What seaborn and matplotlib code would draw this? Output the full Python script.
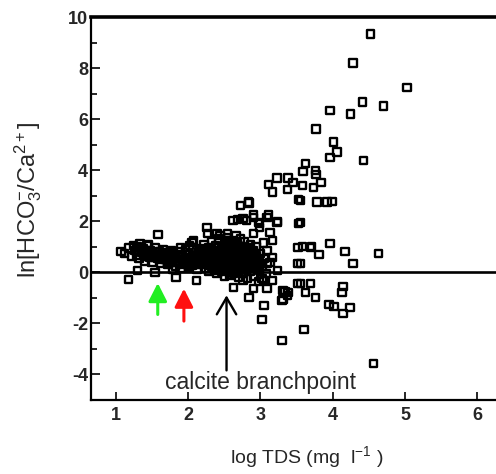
import matplotlib
matplotlib.use("Agg")
import matplotlib.pyplot as plt
import seaborn as sns
import pandas as pd
from matplotlib.ticker import MultipleLocator

# ---- data ----
# sparse points
sparse_x = [4.52, 4.28, 5.03, 4.41, 4.70, 3.96, 4.25, 3.77, 4.01, 4.06, 3.96, 4.43, 3.62, 3.59,
            3.76, 3.77, 3.23, 3.11, 3.38, 3.45, 3.58, 3.37, 3.17, 3.73, 3.84, 3.53, 3.78, 3.99,
            2.83, 3.53, 3.23, 3.09, 2.90, 2.81, 3.55, 3.92, 3.58, 3.71, 3.81, 3.96, 4.17, 4.63,
            4.28, 3.55,
            3.55, 3.69, 3.62, 3.76, 4.14, 4.13, 3.95, 4.02, 4.24, 4.14, 3.60, 4.56, 3.02, 2.63,
            2.84, 3.05, 3.02, 3.34, 3.30, 3.51, 3.30,
            2.72, 2.84, 2.90, 2.68, 2.76, 3.11, 3.24, 2.99, 3.55, 3.17, 3.52, 3.69, 3.51, 2.90,
            3.09, 3.31, 3.37,
            1.07, 1.17, 1.30, 1.58, 1.83, 2.11, 2.05, 2.26, 2.27, 2.00, 2.40, 2.62, 2.97, 3.13,
            2.99, 2.90, 3.09, 3.17, 3.24, 3.13, 3.04, 2.99, 3.17, 2.76, 2.34, 2.16, 2.44, 2.54,
            3.38, 3.31,
            1.24, 1.43, 1.33, 1.75, 1.65, 1.89, 2.02, 2.07, 2.19, 1.78, 1.54, 2.37]
sparse_y = [9.33, 8.20, 7.25, 6.67, 6.51, 6.35, 6.20, 5.61, 5.10, 4.71, 4.51, 4.39, 4.27, 3.96,
            4.00, 3.84, 3.69, 3.45, 3.69, 3.53, 3.41, 3.25, 3.14, 3.33, 3.53, 2.86, 2.75, 2.78,
            2.75, 1.92, 1.96, 2.16, 2.16, 2.04, 2.82, 2.75, 1.02, 1.02, 0.71, 1.14, 0.82, 0.75,
            0.35, 0.35,
            -0.43, -0.43, -0.78, -0.98, -0.55, -0.78, -1.25, -1.33, -1.37, -1.61, -2.24, -3.57,
            -0.24, -0.59, -0.98, -1.29, -1.84, -0.75, -1.10, -0.43, -2.67,
            2.63, 2.71, 2.24, 2.08, 2.12, 2.24, 2.00, 1.92, 1.96, 1.25, 0.98, 0.98, 0.35, -0.63,
            -0.63, -0.71, -0.90,
            0.82, -0.27, 0.08, 1.49, -0.20, -0.31, 1.18, 1.76, 1.53, 0.16, 1.53, 2.04, 1.96, 1.57,
            1.76, 1.53, 0.86, 0.59, 0.08, 0.39, -0.31, 0.08, -0.31, -0.31, 0.86, 0.86, 1.45, 1.53,
            -0.78, -1.06,
            1.06, 1.06, 1.14, 0.78, 0.78, 0.98, 1.06, 1.25, 0.94, 0.12, 0.00, 0.08]

# dense cluster, left part
left_x = [1.12, 1.18, 1.22, 1.26, 1.30, 1.32, 1.36, 1.38, 1.40, 1.42, 1.45, 1.46, 1.48, 1.50,
          1.52, 1.55, 1.57, 1.60, 1.62, 1.64, 1.66, 1.68, 1.70, 1.72, 1.74, 1.76, 1.78, 1.80,
          1.82, 1.84, 1.86, 1.88, 1.90, 1.92, 1.94, 1.96, 1.98, 2.00, 2.02, 2.04, 2.06, 2.08,
          2.10, 2.12, 2.14, 2.16,
          1.29, 1.35, 1.41, 1.47, 1.53, 1.59, 1.63, 1.69, 1.73, 1.79, 1.85, 1.91, 1.97, 2.03,
          2.09, 2.13,
          1.34, 1.39, 1.44, 1.51, 1.56, 1.61, 1.67, 1.71, 1.77, 1.83, 1.87, 1.93, 1.99, 2.05,
          2.11, 2.15]
left_y = [0.75, 0.95, 0.62, 0.85, 1.02, 0.55, 0.78, 0.92, 0.45, 0.70, 1.10, 0.58, 0.85, 0.40,
          0.72, 0.95, 0.55, 0.80, 0.35, 0.65, 0.90, 0.50, 0.72, 0.30, 0.60, 0.85, 0.45, 0.68,
          0.25, 0.55, 0.80, 0.40, 0.15, 0.62, 0.35, 0.88, 0.50, 0.22, 0.70, 0.45, 0.95, 0.30,
          0.60, 0.12, 0.80, 0.42,
          0.68, 0.88, 0.62, 0.75, 0.58, 0.66, 0.52, 0.62, 0.48, 0.56, 0.45, 0.50, 0.38, 0.55,
          0.48, 0.32,
          0.98, 0.70, 0.85, 0.62, 0.80, 0.55, 0.75, 0.40, 0.70, 0.38, 0.62, 0.30, 0.70, 0.28,
          0.40, 0.58]

# dense cluster, main part (calcite branchpoint region)
main_x = [2.18, 2.20, 2.20, 2.22, 2.24, 2.24, 2.26, 2.28, 2.28, 2.30, 2.32, 2.32, 2.34, 2.36,
          2.36, 2.38, 2.38, 2.40, 2.40, 2.42, 2.42, 2.44, 2.44, 2.46, 2.46, 2.48, 2.48, 2.50,
          2.50, 2.52, 2.52, 2.54, 2.54, 2.56, 2.56, 2.58, 2.58, 2.60, 2.60, 2.60, 2.62, 2.62,
          2.64, 2.64, 2.66, 2.66, 2.68, 2.68, 2.70, 2.70, 2.70, 2.72, 2.72, 2.74, 2.74, 2.76,
          2.76, 2.78, 2.78, 2.80, 2.80, 2.82, 2.82, 2.84, 2.84, 2.86, 2.86, 2.88, 2.88, 2.90,
          2.90, 2.92, 2.94, 2.94, 2.96, 2.98, 2.98, 3.00, 3.02, 3.04, 3.06, 3.08, 3.10,
          2.21, 2.25, 2.29, 2.33, 2.35, 2.39, 2.43, 2.45, 2.49, 2.51, 2.53, 2.55, 2.57, 2.59,
          2.61, 2.63, 2.65, 2.67, 2.69, 2.71, 2.73, 2.75, 2.77, 2.79, 2.81, 2.83, 2.85, 2.87,
          2.89, 2.91, 2.93, 2.95, 2.47, 2.53, 2.59, 2.65, 2.71, 2.77, 2.83, 2.57, 2.63, 2.69,
          2.75, 2.41, 2.37, 2.31,
          2.27, 2.34, 2.39, 2.44, 2.48, 2.52, 2.55, 2.58, 2.61, 2.64, 2.67, 2.70, 2.73, 2.76,
          2.79, 2.82, 2.85, 2.88, 2.92, 2.96, 2.50, 2.56, 2.62, 2.68, 2.74, 2.80, 2.86, 2.46,
          2.54, 2.66, 2.72, 2.78, 2.60, 2.64, 2.84, 2.42]
main_y = [0.55, 0.30, 0.85, 1.10, 0.15, 0.62, 0.40, 0.95, 0.05, 0.70, 0.25, 1.20, 0.50, 0.85,
          0.10, 0.35, 1.05, 0.60, -0.05, 0.20, 1.30, 0.80, 0.45, 0.05, 1.00, 0.65, 0.30, 1.20,
          -0.15, 0.50, 0.85, 0.15, 1.35, 0.70, 0.35, 1.05, -0.10, 0.55, 0.90, 0.20, 1.25, 0.40,
          0.75, 0.00, 1.45, 0.30, 0.60, 1.10, -0.20, 0.85, 0.45, 0.15, 1.30, 0.65, 1.00, 0.30,
          -0.05, 0.80, 1.20, 0.50, 0.10, 0.95, -0.25, 0.35, 0.70, 1.10, 0.05, 0.55, 0.25, 0.85,
          -0.15, 0.40, 0.65, 1.00, 0.15, 0.45, -0.35, 0.75, 0.25, 1.15, 0.55, -0.05, 0.35,
          0.72, 0.50, 0.28, 0.60, 0.42, 0.78, 0.62, 0.28, 0.48, 0.70, 0.32, 0.95, 0.55, 0.78,
          0.40, 0.62, 0.90, 0.45, 0.68, 1.02, 0.50, 0.85, 0.45, 0.62, 0.75, 0.52, 0.38, 0.80,
          0.45, 0.62, 0.30, 0.52, 0.90, 1.05, 1.15, 1.22, 0.30, 0.18, 0.20, 0.12, -0.02, 0.05,
          0.48, 0.95, 0.70, 0.90,
          0.80, 0.38, 0.52, 0.68, 0.85, 1.00, 0.62, 0.45, 1.12, 0.52, 0.80, 0.62, 0.40, 0.72,
          0.55, 0.20, 0.62, 0.70, 0.15, 0.30, 0.10, 1.25, 0.05, 0.90, 0.85, 0.30, 0.25, 0.52,
          0.62, 0.40, 0.50, 0.95, 0.70, 1.05, 0.90, 0.95]

x_ticks = [1, 2, 3, 4, 5, 6]
y_ticks = [-4, -2, 0, 2, 4, 6, 8, 10]
annotation_text = "calcite branchpoint"

df = pd.DataFrame({
    "logTDS": sparse_x + left_x + main_x,
    "lnratio": sparse_y + left_y + main_y,
})

# ---- figure ----
sns.set_style("white")
plt.rcParams["font.family"] = ["Liberation Sans", "DejaVu Sans"]
plt.rcParams["mathtext.fontset"] = "custom"
plt.rcParams["mathtext.rm"] = "Liberation Sans"
plt.rcParams["mathtext.it"] = "Liberation Sans:italic"
plt.rcParams["mathtext.bf"] = "Liberation Sans:bold"

fig = plt.figure(figsize=(4.96, 4.74), dpi=100)
ax = fig.add_axes([91 / 496, 1 - 400 / 474, (496 - 91) / 496, (400 - 17) / 474])

sns.scatterplot(data=df, x="logTDS", y="lnratio", ax=ax, marker="s", s=28,
                facecolor="none", edgecolor="black", linewidth=1.7, legend=False)

ax.set_xlim(0.654, 6.26)
ax.set_ylim(-5, 10)
ax.axhline(0, color="black", lw=1.9, zorder=1)

ax.spines["right"].set_visible(False)
ax.spines["top"].set_linewidth(2.6)
ax.spines["left"].set_linewidth(1.6)
ax.spines["bottom"].set_linewidth(1.6)
for s in ax.spines.values():
    s.set_color("black")

ax.set_xticks(x_ticks)
ax.set_xticklabels([str(v) for v in x_ticks], fontweight="bold", fontsize=13)
ax.set_yticks(y_ticks)
ax.set_yticklabels([str(v) if v >= 0 else "-" + str(-v) for v in y_ticks],
                   fontweight="bold", fontsize=13)
ax.yaxis.set_minor_locator(MultipleLocator(1))
ax.tick_params(axis="y", which="major", direction="in", length=6.5, width=1.4, pad=2,
               left=True)
ax.tick_params(axis="y", which="minor", direction="in", length=4.5, width=1.4, left=True)
ax.tick_params(axis="x", which="major", direction="in", length=6, width=1.4, pad=5,
               bottom=True)

ax.set_xlabel("log TDS (mg  l$^{-1}$ )", fontsize=14)
ax.xaxis.set_label_coords((307 - 91) / 405, -(444 - 400) / 383)
ax.set_ylabel("ln[HCO$_3^{-}$/Ca$^{2+}$]", fontsize=17)
ax.yaxis.set_label_coords((44 - 91) / 405, (400 - 200) / 383)

# arrows
ax.annotate("", xy=(1.578, -0.42), xytext=(1.578, -1.65),
            arrowprops=dict(arrowstyle="-|>,head_length=0.55,head_width=0.28",
                            color="#22ee22", lw=2.2, mutation_scale=20,
                            shrinkA=0, shrinkB=0))
ax.annotate("", xy=(1.94, -0.64), xytext=(1.94, -1.91),
            arrowprops=dict(arrowstyle="-|>,head_length=0.55,head_width=0.28",
                            color="#ff1010", lw=2.2, mutation_scale=20,
                            shrinkA=0, shrinkB=0))
ax.annotate("", xy=(2.53, -0.90), xytext=(2.53, -3.84),
            arrowprops=dict(arrowstyle="->,head_length=0.6,head_width=0.35",
                            color="black", lw=1.7, mutation_scale=20,
                            shrinkA=0, shrinkB=0))
ax.text(1.68, -4.55, annotation_text, fontsize=16.5, ha="left", va="baseline")

fig.savefig("out.png", dpi=100)
